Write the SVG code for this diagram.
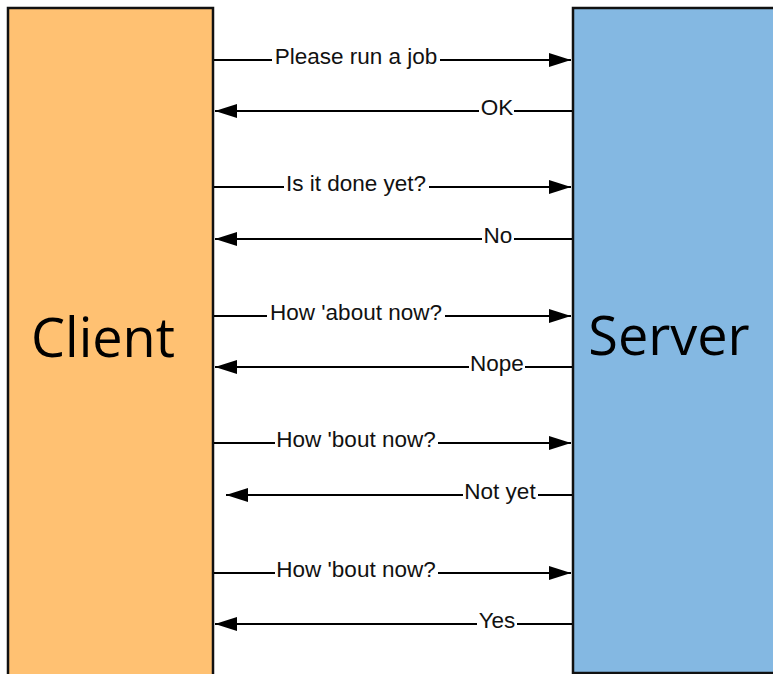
<svg xmlns="http://www.w3.org/2000/svg" width="773" height="674" viewBox="0 0 773 674">
<defs>
<style>
.box{stroke:#111;stroke-width:2.5}
.ln{stroke:#000;stroke-width:2;fill:none}
.lbl{font-family:"Liberation Sans",Arial,sans-serif;font-size:22.5px;fill:#111;text-anchor:middle}
.bg{fill:#fff}
.big{font-family:"Open Sans","Noto Sans",sans-serif;font-size:54px;fill:#000;text-anchor:middle}
</style>
<marker id="ah" viewBox="0 0 22 14" refX="22" refY="7" markerWidth="22" markerHeight="14" markerUnits="userSpaceOnUse" orient="auto">
<path d="M0,0 L22,7 L0,14 z" fill="#000"/>
</marker>
</defs>
<rect width="773" height="674" fill="#fff"/>
<g id="client">
<rect class="box" x="8" y="8" width="205" height="670" fill="#FFC172"/>
<text class="big" x="103" y="357">Client</text>
</g>
<g id="server">
<rect class="box" x="573" y="8" width="210" height="665" fill="#84B8E2"/>
<text class="big" x="669" y="355">Server</text>
</g>
<g id="connectors">
<line class="ln" x1="214" y1="60" x2="571" y2="60" marker-end="url(#ah)"/>
<rect class="bg" x="272" y="46" width="168" height="26"/>
<text class="lbl" x="356" y="64">Please run a job</text>
<line class="ln" x1="572" y1="111" x2="215" y2="111" marker-end="url(#ah)"/>
<rect class="bg" x="479" y="97" width="35" height="26"/>
<text class="lbl" x="497" y="115">OK</text>
<line class="ln" x1="214" y1="187" x2="571" y2="187" marker-end="url(#ah)"/>
<rect class="bg" x="284" y="173" width="145" height="26"/>
<text class="lbl" x="356" y="191">Is it done yet?</text>
<line class="ln" x1="572" y1="239" x2="215" y2="239" marker-end="url(#ah)"/>
<rect class="bg" x="482" y="225" width="32" height="26"/>
<text class="lbl" x="498" y="243">No</text>
<line class="ln" x1="214" y1="316" x2="571" y2="316" marker-end="url(#ah)"/>
<rect class="bg" x="267" y="302" width="178" height="26"/>
<text class="lbl" x="356" y="320">How 'about now?</text>
<line class="ln" x1="572" y1="367" x2="215" y2="367" marker-end="url(#ah)"/>
<rect class="bg" x="469" y="353" width="56" height="26"/>
<text class="lbl" x="497" y="371">Nope</text>
<line class="ln" x1="214" y1="443" x2="571" y2="443" marker-end="url(#ah)"/>
<rect class="bg" x="275" y="429" width="163" height="26"/>
<text class="lbl" x="356" y="447">How 'bout now?</text>
<line class="ln" x1="572" y1="495" x2="226" y2="495" marker-end="url(#ah)"/>
<rect class="bg" x="463" y="481" width="75" height="26"/>
<text class="lbl" x="500" y="499">Not yet</text>
<line class="ln" x1="214" y1="573" x2="571" y2="573" marker-end="url(#ah)"/>
<rect class="bg" x="275" y="559" width="163" height="26"/>
<text class="lbl" x="356" y="577">How 'bout now?</text>
<line class="ln" x1="572" y1="624" x2="215" y2="624" marker-end="url(#ah)"/>
<rect class="bg" x="477" y="610" width="40" height="26"/>
<text class="lbl" x="497" y="628">Yes</text>
</g>
</svg>
